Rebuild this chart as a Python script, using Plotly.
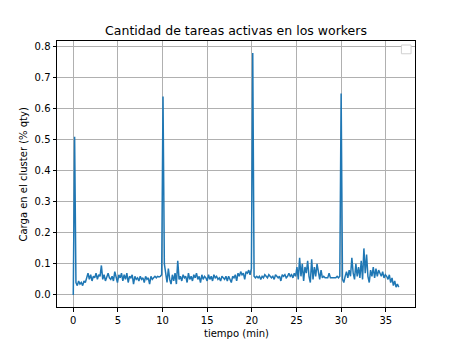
import plotly.graph_objects as go

step_min = 0.15
carga = [
    0.0, 0.51, 0.04, 0.03, 0.045, 0.035, 0.04, 0.03, 0.045, 0.04,
    0.055, 0.07, 0.05, 0.065, 0.045, 0.06, 0.055, 0.07, 0.05, 0.065,
    0.06, 0.095, 0.05, 0.065, 0.045, 0.06, 0.07, 0.055, 0.05, 0.06,
    0.045, 0.075, 0.06, 0.04, 0.065, 0.055, 0.07, 0.045, 0.065, 0.05,
    0.07, 0.04, 0.06, 0.055, 0.065, 0.035, 0.06, 0.05, 0.055, 0.045,
    0.06, 0.05, 0.055, 0.04, 0.06, 0.05, 0.055, 0.035, 0.06, 0.05,
    0.055, 0.06, 0.055, 0.06, 0.058, 0.06, 0.065, 0.64, 0.1, 0.07,
    0.04, 0.085, 0.05, 0.035, 0.065, 0.045, 0.07, 0.035, 0.11, 0.05,
    0.06, 0.045, 0.065, 0.055, 0.06, 0.04, 0.07, 0.05, 0.06, 0.045,
    0.065, 0.055, 0.07, 0.05, 0.06, 0.04, 0.065, 0.05, 0.06, 0.055,
    0.045, 0.065, 0.05, 0.06, 0.045, 0.065, 0.055, 0.06, 0.05, 0.055,
    0.045, 0.06, 0.055, 0.05, 0.06, 0.045, 0.06, 0.05, 0.04, 0.06,
    0.055, 0.065, 0.045, 0.07, 0.06, 0.075, 0.065, 0.07, 0.05, 0.075,
    0.07, 0.08, 0.065, 0.085, 0.78, 0.06, 0.055, 0.06, 0.055, 0.06,
    0.05, 0.06, 0.055, 0.065, 0.06, 0.055, 0.065, 0.06, 0.055, 0.06,
    0.05, 0.065, 0.06, 0.055, 0.06, 0.045, 0.065, 0.06, 0.065, 0.055,
    0.06, 0.07, 0.06, 0.065, 0.055, 0.07, 0.06, 0.09, 0.05, 0.12,
    0.06, 0.1, 0.045, 0.09, 0.07, 0.11, 0.06, 0.04, 0.115, 0.05,
    0.09, 0.06, 0.1, 0.07, 0.05, 0.08, 0.055, 0.06, 0.055, 0.055,
    0.055, 0.07, 0.055, 0.055, 0.055, 0.055, 0.055, 0.06, 0.055, 0.06,
    0.65, 0.05, 0.04, 0.06, 0.075, 0.055, 0.08, 0.06, 0.12, 0.07,
    0.05, 0.1, 0.06, 0.09, 0.055, 0.11, 0.05, 0.15, 0.07, 0.13,
    0.06, 0.04, 0.08, 0.06, 0.09, 0.055, 0.085, 0.06, 0.08, 0.07,
    0.06, 0.075, 0.055, 0.065, 0.06, 0.05, 0.065, 0.04, 0.055, 0.03,
    0.045, 0.025, 0.035, 0.025,
]
tiempo = [i * step_min for i in range(len(carga))]

x_ticks = [0, 5, 10, 15, 20, 25, 30, 35]
y_ticks = [0.0, 0.1, 0.2, 0.3, 0.4, 0.5, 0.6, 0.7, 0.8]

fig = go.Figure()
fig.add_trace(go.Scatter(
    x=tiempo, y=carga, mode="lines",
    line=dict(color="#1f77b4", width=1.5),
    showlegend=False,
))

axis_common = dict(
    showline=True, linecolor="black", linewidth=1, mirror=True,
    ticks="outside", ticklen=3.5, tickwidth=1, tickcolor="black",
    showgrid=True, gridcolor="#b0b0b0", gridwidth=0.8,
    zeroline=False, automargin=False,
    tickfont=dict(family="DejaVu Sans", size=10, color="black"),
)

xmin, xmax = min(tiempo), max(tiempo)
ymin, ymax = min(carga), max(carga)
xpad = (xmax - xmin) * 0.05
ypad = (ymax - ymin) * 0.05

fig.update_layout(
    width=460, height=345,
    margin=dict(l=57, r=45, t=41, b=38),
    paper_bgcolor="white", plot_bgcolor="white",
    font=dict(family="DejaVu Sans", color="black"),
    title=dict(text="Cantidad de tareas activas en los workers",
               x=0.5, xref="paper", xanchor="center",
               y=1 - 31 / 345, yanchor="middle",
               font=dict(family="DejaVu Sans", size=12.5, color="black")),
    xaxis=dict(axis_common, range=[xmin - xpad, xmax + xpad],
               tickvals=x_ticks, ticktext=[str(v) for v in x_ticks]),
    yaxis=dict(axis_common, range=[ymin - ypad, ymax + ypad],
               tickvals=y_ticks, ticktext=[f"{v:.1f}" for v in y_ticks]),
    annotations=[
        dict(text="tiempo (min)", xref="paper", yref="paper", x=0.5, y=0,
             xanchor="center", yanchor="top", yshift=-19, showarrow=False,
             font=dict(family="DejaVu Sans", size=10, color="black")),
        dict(text="Carga en el cluster (% qty)", xref="paper", yref="paper",
             x=0, y=0.5, xanchor="right", yanchor="middle", xshift=-27,
             textangle=-90, showarrow=False,
             font=dict(family="DejaVu Sans", size=10, color="black")),
    ],
    shapes=[dict(type="rect", xref="paper", yref="paper",
                 x0=0.962, x1=0.989, y0=0.952, y1=0.985,
                 line=dict(color="#d0d0d0", width=1), fillcolor="white")],
)

fig.write_html("out.html")
